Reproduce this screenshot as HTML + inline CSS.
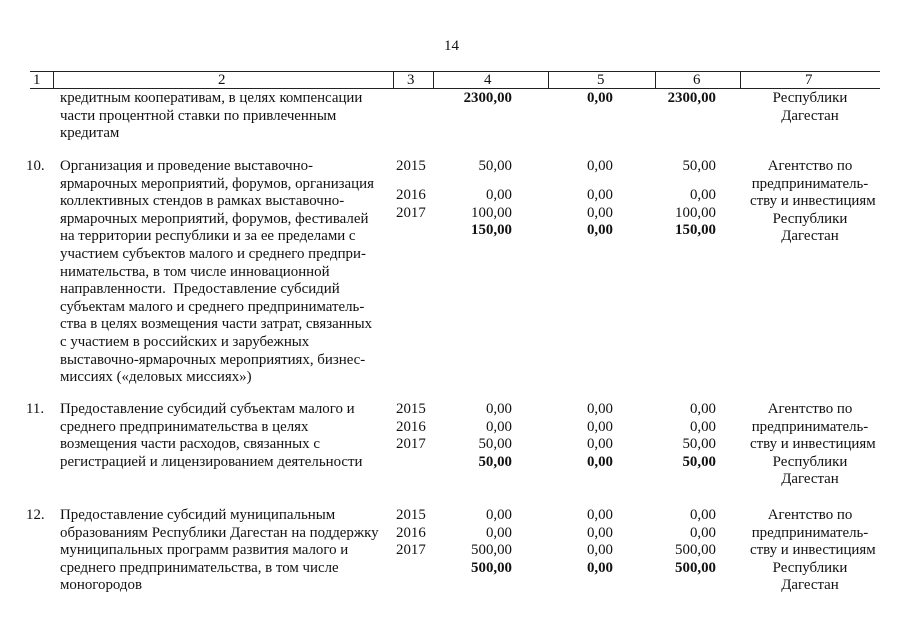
<!DOCTYPE html>
<html><head><meta charset="utf-8"><style>
body{margin:0;width:905px;height:640px;background:#fff;position:relative;overflow:hidden;font-family:"Liberation Serif",serif;font-size:14.9px;color:#111}
.t{position:absolute;line-height:17.6px;white-space:nowrap}
.r{text-align:right}
.c{text-align:center}
.b{font-weight:bold}
.l{position:absolute;background:#222}
</style></head><body>
<div class="t" style="left:444px;top:38px;font-size:15px">14</div>
<div class="l" style="left:30px;top:71px;width:850px;height:1px"></div>
<div class="l" style="left:30px;top:88px;width:850px;height:1px"></div>
<div class="l" style="left:53px;top:71px;width:1px;height:17px"></div>
<div class="l" style="left:393px;top:71px;width:1px;height:17px"></div>
<div class="l" style="left:433px;top:71px;width:1px;height:17px"></div>
<div class="l" style="left:548px;top:71px;width:1px;height:17px"></div>
<div class="l" style="left:655px;top:71px;width:1px;height:17px"></div>
<div class="l" style="left:740px;top:71px;width:1px;height:17px"></div>
<div class="t" style="left:33px;top:72px">1</div>
<div class="t" style="left:218px;top:72px">2</div>
<div class="t" style="left:407px;top:72px">3</div>
<div class="t" style="left:484px;top:72px">4</div>
<div class="t" style="left:597px;top:72px">5</div>
<div class="t" style="left:693px;top:72px">6</div>
<div class="t" style="left:805px;top:72px">7</div>

<div class="t" style="left:60px;top:90px">кредитным кооперативам, в целях компенсации<br>части процентной ставки по привлеченным<br>кредитам</div>
<div class="t r b" style="left:400px;width:112px;top:90px">2300,00</div>
<div class="t r b" style="left:500px;width:113px;top:90px">0,00</div>
<div class="t r b" style="left:600px;width:116px;top:90px">2300,00</div>
<div class="t c" style="left:750px;width:120px;top:90px">Республики<br>Дагестан</div>

<div class="t" style="left:26px;top:158px">10.</div>
<div class="t" style="left:60px;top:158px">Организация и проведение выставочно-<br>ярмарочных мероприятий, форумов, организация<br>коллективных стендов в рамках выставочно-<br>ярмарочных мероприятий, форумов, фестивалей<br>на территории республики и за ее пределами с<br>участием субъектов малого и среднего предпри-<br>нимательства, в том числе инновационной<br>направленности.&nbsp; Предоставление субсидий<br>субъектам малого и среднего предприниматель-<br>ства в целях возмещения части затрат, связанных<br>с участием в российских и зарубежных<br>выставочно-ярмарочных мероприятиях, бизнес-<br>миссиях («деловых миссиях»)</div>
<div class="t" style="left:396px;top:158px">2015</div>
<div class="t" style="left:396px;top:187px">2016<br>2017</div>
<div class="t r" style="left:400px;width:112px;top:158px">50,00</div>
<div class="t r" style="left:400px;width:112px;top:187px">0,00<br>100,00<br><b>150,00</b></div>
<div class="t r" style="left:500px;width:113px;top:158px">0,00</div>
<div class="t r" style="left:500px;width:113px;top:187px">0,00<br>0,00<br><b>0,00</b></div>
<div class="t r" style="left:600px;width:116px;top:158px">50,00</div>
<div class="t r" style="left:600px;width:116px;top:187px">0,00<br>100,00<br><b>150,00</b></div>
<div class="t c" style="left:750px;width:120px;top:158px">Агентство по<br>предприниматель-<br>ству и инвестициям<br>Республики<br>Дагестан</div>

<div class="t" style="left:26px;top:401px">11.</div>
<div class="t" style="left:60px;top:401px">Предоставление субсидий субъектам малого и<br>среднего предпринимательства в целях<br>возмещения части расходов, связанных с<br>регистрацией и лицензированием деятельности</div>
<div class="t" style="left:396px;top:401px">2015<br>2016<br>2017</div>
<div class="t r" style="left:400px;width:112px;top:401px">0,00<br>0,00<br>50,00<br><b>50,00</b></div>
<div class="t r" style="left:500px;width:113px;top:401px">0,00<br>0,00<br>0,00<br><b>0,00</b></div>
<div class="t r" style="left:600px;width:116px;top:401px">0,00<br>0,00<br>50,00<br><b>50,00</b></div>
<div class="t c" style="left:750px;width:120px;top:401px">Агентство по<br>предприниматель-<br>ству и инвестициям<br>Республики<br>Дагестан</div>

<div class="t" style="left:26px;top:507px">12.</div>
<div class="t" style="left:60px;top:507px">Предоставление субсидий муниципальным<br>образованиям Республики Дагестан на поддержку<br>муниципальных программ развития малого и<br>среднего предпринимательства, в том числе<br>моногородов</div>
<div class="t" style="left:396px;top:507px">2015<br>2016<br>2017</div>
<div class="t r" style="left:400px;width:112px;top:507px">0,00<br>0,00<br>500,00<br><b>500,00</b></div>
<div class="t r" style="left:500px;width:113px;top:507px">0,00<br>0,00<br>0,00<br><b>0,00</b></div>
<div class="t r" style="left:600px;width:116px;top:507px">0,00<br>0,00<br>500,00<br><b>500,00</b></div>
<div class="t c" style="left:750px;width:120px;top:507px">Агентство по<br>предприниматель-<br>ству и инвестициям<br>Республики<br>Дагестан</div>
</body></html>
